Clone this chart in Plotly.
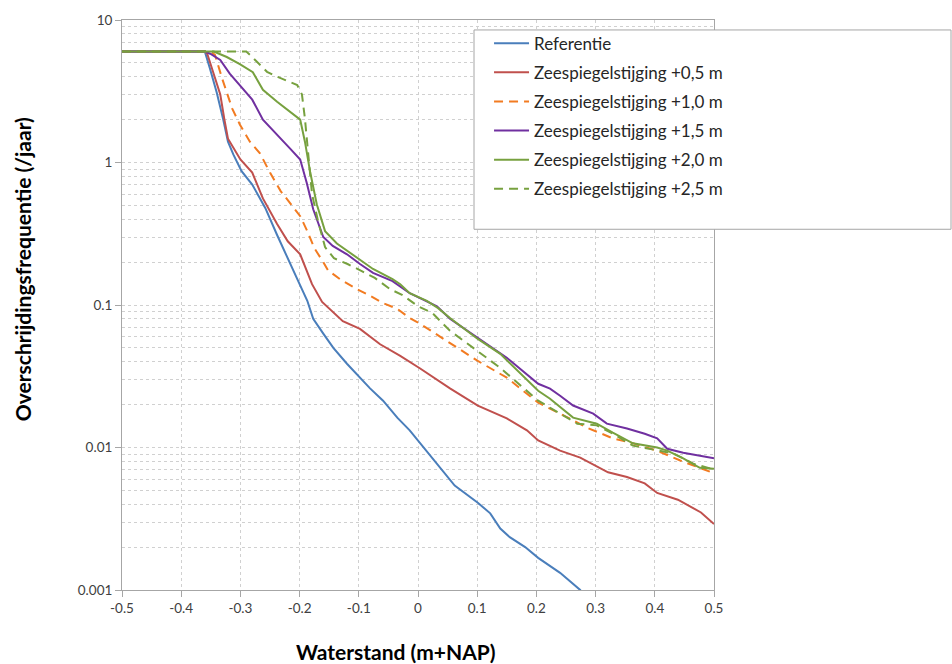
import plotly.graph_objects as go

# ---- data ----
ref_x = [-0.5, -0.36, -0.351, -0.34, -0.329, -0.321, -0.312, -0.298, -0.28, -0.258, -0.238, -0.22, -0.2, -0.187,
         -0.177, -0.16, -0.143, -0.12, -0.098, -0.081, -0.059, -0.035, -0.014, 0.004, 0.032, 0.062, 0.101, 0.122,
         0.139, 0.155, 0.181, 0.203, 0.24, 0.274, 0.3]
ref_y = [6, 6, 4.5, 3.1, 2.0, 1.4, 1.14, 0.87, 0.70, 0.48, 0.31, 0.21, 0.14, 0.107, 0.08, 0.063, 0.05, 0.0387,
         0.031, 0.026, 0.0213, 0.0162, 0.0132, 0.0107, 0.0077, 0.0054, 0.0041, 0.00345, 0.0027, 0.00235, 0.002,
         0.00168, 0.00132, 0.001, 0.0007]

z05_x = [-0.5, -0.36, -0.356, -0.346, -0.334, -0.327, -0.321, -0.30, -0.28, -0.262, -0.238, -0.22, -0.199, -0.179,
         -0.162, -0.127, -0.098, -0.064, -0.03, 0.003, 0.032, 0.054, 0.101, 0.15, 0.184, 0.203, 0.24, 0.274, 0.321,
         0.353, 0.383, 0.404, 0.439, 0.478, 0.5]
z05_y = [6, 6, 5.8, 4.3, 3.0, 2.0, 1.47, 1.05, 0.85, 0.56, 0.37, 0.28, 0.227, 0.14, 0.105, 0.077, 0.068, 0.053,
         0.044, 0.036, 0.030, 0.026, 0.0197, 0.016, 0.0132, 0.0112, 0.0095, 0.0085, 0.0067, 0.0062, 0.0056, 0.0048,
         0.0043, 0.0035, 0.0029]

z10_x = [-0.5, -0.35, -0.343, -0.331, -0.314, -0.301, -0.284, -0.267, -0.25, -0.232, -0.213, -0.199, -0.187, -0.175,
         -0.16, -0.152, -0.132, -0.103, -0.081, -0.059, -0.035, -0.014, 0.004, 0.054, 0.101, 0.15, 0.203, 0.24, 0.285,
         0.329, 0.363, 0.404, 0.443, 0.5]
z10_y = [6, 6, 5.7, 3.9, 2.4, 1.85, 1.4, 1.16, 0.85, 0.63, 0.5, 0.42, 0.33, 0.25, 0.2, 0.175, 0.152, 0.129, 0.116,
         0.103, 0.094, 0.081, 0.0736, 0.0542, 0.0405, 0.0309, 0.0206, 0.0173, 0.0138, 0.0116, 0.0107, 0.0095,
         0.0081, 0.0066]

z15_x = [-0.5, -0.36, -0.351, -0.334, -0.318, -0.301, -0.28, -0.262, -0.236, -0.216, -0.199, -0.188, -0.177, -0.16,
         -0.144, -0.12, -0.098, -0.076, -0.043, -0.014, 0.007, 0.032, 0.054, 0.101, 0.15, 0.203, 0.223, 0.24, 0.262,
         0.296, 0.319, 0.353, 0.383, 0.404, 0.421, 0.448, 0.5]
z15_y = [6, 6, 5.8, 5.25, 4.2, 3.5, 2.76, 2.0, 1.52, 1.25, 1.05, 0.72, 0.47, 0.30, 0.26, 0.227, 0.194, 0.168,
         0.147, 0.121, 0.110, 0.098, 0.080, 0.0588, 0.0426, 0.028, 0.0259, 0.0231, 0.0197, 0.0173, 0.0147, 0.0136,
         0.0125, 0.0116, 0.0098, 0.0092, 0.0084]

z20_x = [-0.5, -0.345, -0.323, -0.301, -0.279, -0.262, -0.238, -0.216, -0.199, -0.191, -0.182, -0.171, -0.157,
         -0.137, -0.115, -0.093, -0.076, -0.043, -0.03, -0.014, 0.015, 0.034, 0.054, 0.101, 0.139, 0.203, 0.223,
         0.262, 0.302, 0.329, 0.363, 0.404, 0.421, 0.448, 0.476, 0.5]
z20_y = [6, 6, 5.5, 4.9, 4.3, 3.24, 2.67, 2.28, 2.0, 1.4, 0.85, 0.51, 0.33, 0.27, 0.233, 0.203, 0.179, 0.152, 0.14,
         0.121, 0.107, 0.095, 0.081, 0.0578, 0.0454, 0.025, 0.022, 0.0162, 0.0147, 0.0127, 0.0107, 0.0100, 0.0095,
         0.0084, 0.0072, 0.0071]

z25_x = [-0.5, -0.29, -0.284, -0.272, -0.255, -0.238, -0.204, -0.196, -0.191, -0.185, -0.179, -0.169, -0.157,
         -0.142, -0.119, -0.095, -0.073, -0.047, -0.027, 0.0, 0.024, 0.054, 0.101, 0.139, 0.203, 0.252, 0.269,
         0.302, 0.329, 0.363, 0.404, 0.431, 0.465, 0.5]
z25_y = [6, 6, 5.7, 5.1, 4.33, 4.0, 3.5, 3.0, 2.03, 1.1, 0.6, 0.39, 0.255, 0.213, 0.194, 0.173, 0.155, 0.129, 0.118,
         0.098, 0.088, 0.066, 0.0476, 0.0362, 0.0213, 0.0162, 0.0147, 0.0143, 0.0125, 0.0103, 0.0095, 0.0091,
         0.0077, 0.007]

series_names = ["Referentie", "Zeespiegelstijging +0,5 m", "Zeespiegelstijging +1,0 m",
                "Zeespiegelstijging +1,5 m", "Zeespiegelstijging +2,0 m", "Zeespiegelstijging +2,5 m"]

x_ticks = [-0.5, -0.4, -0.3, -0.2, -0.1, 0, 0.1, 0.2, 0.3, 0.4, 0.5]
x_ticklabels = ["-0.5", "-0.4", "-0.3", "-0.2", "-0.1", "0", "0.1", "0.2", "0.3", "0.4", "0.5"]
y_ticks = [0.001, 0.01, 0.1, 1, 10]
y_ticklabels = ["0.001", "0.01", "0.1", "1", "10"]
y_minor = [k * 10.0 ** e for e in range(-3, 1) for k in range(2, 10)]

# ---- styles ----
styles = [
    dict(color="#4A7EBB", dash="solid"),
    dict(color="#C0504D", dash="solid"),
    dict(color="#F27B21", dash="9px,6px"),
    dict(color="#7030A0", dash="solid"),
    dict(color="#77A13F", dash="solid"),
    dict(color="#77A13F", dash="9px,6px"),
]
data = [(ref_x, ref_y), (z05_x, z05_y), (z10_x, z10_y), (z15_x, z15_y), (z20_x, z20_y), (z25_x, z25_y)]

FONT = "Lato, 'Open Sans', sans-serif"
fig = go.Figure()
for i, ((xs, ys), name, st) in enumerate(zip(data, series_names, styles)):
    fig.add_trace(go.Scatter(x=xs, y=ys, mode="lines", name=name, legendgroup=f"g{i}",
                             line=dict(color=st["color"], dash=st["dash"], width=2)))

grid_col = "#D0D0D0"
fig.update_layout(
    width=952, height=664,
    margin=dict(l=122, r=238, t=18, b=74),
    paper_bgcolor="white", plot_bgcolor="white",
    font=dict(family=FONT, size=13, color="#404040"),
    showlegend=True,
    legend=dict(x=0.62, y=0.99, xanchor="left", yanchor="top",
                bgcolor="rgba(0,0,0,0)", borderwidth=0,
                font=dict(family=FONT, size=17, color="#262626"),
                tracegroupgap=4, itemwidth=35),
    xaxis=dict(range=[-0.5, 0.5], tickvals=x_ticks, ticktext=x_ticklabels,
               showgrid=True, gridcolor=grid_col, griddash="dot", gridwidth=1,
               showline=True, linecolor="#A6A6A6", linewidth=1, mirror=True,
               ticks="outside", ticklen=6, tickcolor="#A6A6A6", zeroline=False,
               tickfont=dict(size=13.5, color="#404040")),
    yaxis=dict(type="log", range=[-3, 1], tickvals=y_ticks, ticktext=y_ticklabels,
               showgrid=True, gridcolor=grid_col, griddash="dot", gridwidth=1,
               showline=True, linecolor="#A6A6A6", linewidth=1, mirror=True,
               ticks="outside", ticklen=6, tickcolor="#A6A6A6", zeroline=False,
               tickfont=dict(size=13.5, color="#404040"),
               minor=dict(tickvals=y_minor, showgrid=True, gridcolor=grid_col, griddash="dot",
                          gridwidth=1, ticks="")),
    shapes=[dict(type="rect", xref="paper", yref="paper",
                 x0=(474 - 122) / 592, x1=(951 - 122) / 592,
                 y0=(590 - 228) / 572, y1=(590 - 28) / 572,
                 line=dict(color="#A6A6A6", width=1), fillcolor="white", layer="above")],
    annotations=[
        dict(text="<b>Overschrijdingsfrequentie (/jaar)</b>", xref="paper", yref="paper",
             x=(22 - 122) / 592, y=(590 - 268) / 572, textangle=-90, showarrow=False,
             font=dict(family=FONT, size=21, color="#000000"), xanchor="center", yanchor="middle"),
        dict(text="<b>Waterstand (m+NAP)</b>", xref="paper", yref="paper",
             x=(396 - 122) / 592, y=(590 - 652) / 572, showarrow=False,
             font=dict(family=FONT, size=21, color="#000000"), xanchor="center", yanchor="middle"),
    ],
)

fig.write_html("out.html")
